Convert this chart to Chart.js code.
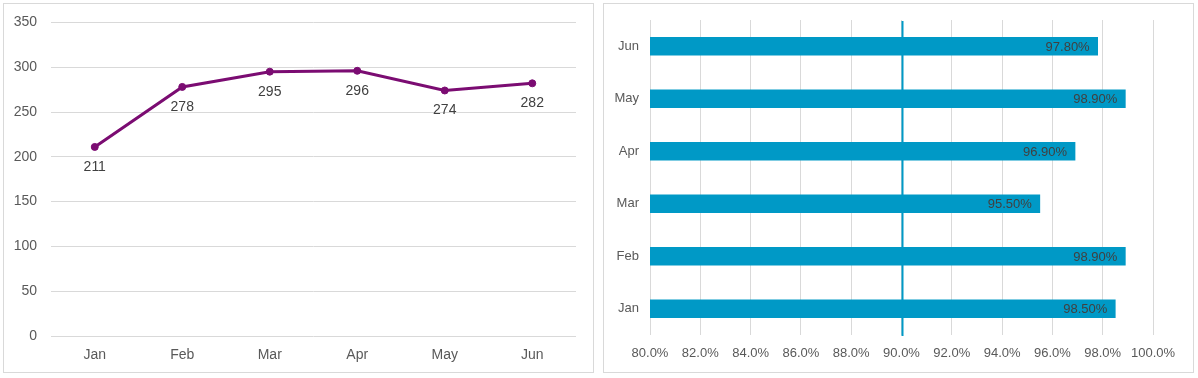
<!DOCTYPE html>
<html>
<head>
<meta charset="utf-8">
<script src="https://cdn.jsdelivr.net/npm/chart.js@4.4.0/dist/chart.umd.min.js"></script>
<style>
  html, body { margin: 0; padding: 0; background: #ffffff; }
  body { width: 1198px; height: 378px; position: relative; overflow: hidden; }
  .panel { position: absolute; border: 1px solid #d9d9d9; box-sizing: border-box; }
  #p1 { left: 3px; top: 3px; width: 591px; height: 370px; }
  #p2 { left: 603px; top: 3px; width: 591px; height: 370px; }
  #c1wrap { position: absolute; left: 0; top: 0; width: 600px; height: 378px; }
  #c2wrap { position: absolute; left: 600px; top: 0; width: 598px; height: 378px; }
</style>
</head>
<body>
<div class="panel" id="p1"></div>
<div class="panel" id="p2"></div>
<div id="c1wrap"><canvas id="c1"></canvas></div>
<div id="c2wrap"><canvas id="c2"></canvas></div>
<script>
// ---- data ----
const months = ["Jan", "Feb", "Mar", "Apr", "May", "Jun"];
const countValues = [211, 278, 295, 296, 274, 282];
const rateValues = [98.5, 98.9, 95.5, 96.9, 98.9, 97.8];
const rateTarget = [90];
const countTicks = [0, 50, 100, 150, 200, 250, 300, 350];
const rateTicks = [80, 82, 84, 86, 88, 90, 92, 94, 96, 98, 100];

const FONT = "'Liberation Sans', Arial, sans-serif";
const AXIS_COLOR = "#595959";
const LABEL_COLOR = "#404040";
const GRID_COLOR = "#d9d9d9";
const LINE_COLOR = "#7b0c72";
const BAR_COLOR = "#0099c6";

// value labels below points
const lineLabels = {
  id: 'lineLabels',
  afterDatasetsDraw(chart) {
    const ctx = chart.ctx;
    const meta = chart.getDatasetMeta(0);
    ctx.save();
    ctx.font = "14px " + FONT;
    ctx.fillStyle = LABEL_COLOR;
    ctx.textAlign = 'center';
    ctx.textBaseline = 'middle';
    meta.data.forEach((pt, i) => {
      ctx.fillText(String(countValues[i]), pt.x, pt.y + 20);
    });
    ctx.restore();
  }
};

new Chart(document.getElementById('c1'), {
  type: 'line',
  data: {
    labels: months,
    datasets: [{
      data: countValues,
      borderColor: LINE_COLOR,
      backgroundColor: LINE_COLOR,
      borderWidth: 3,
      pointRadius: 3.5,
      pointHoverRadius: 3.5,
      pointBorderWidth: 1,
      pointBackgroundColor: LINE_COLOR,
      pointBorderColor: LINE_COLOR,
      tension: 0,
      fill: false
    }]
  },
  options: {
    responsive: true,
    maintainAspectRatio: false,
    animation: false,
    events: [],
    layout: { padding: { left: 0, top: 21, right: 24, bottom: 0 } },
    plugins: { legend: { display: false }, tooltip: { enabled: false } },
    scales: {
      x: {
        offset: true,
        grid: { display: false, drawTicks: false },
        border: { display: false },
        ticks: { color: AXIS_COLOR, font: { family: FONT, size: 14 }, padding: 11, maxRotation: 0 },
        afterFit(s) { s.height = 42; }
      },
      y: {
        min: countTicks[0],
        max: countTicks[countTicks.length - 1],
        afterBuildTicks(s) { s.ticks = countTicks.map(v => ({ value: v })); },
        grid: { color: GRID_COLOR, lineWidth: 1, drawTicks: false },
        border: { display: false },
        ticks: { color: AXIS_COLOR, font: { family: FONT, size: 14 }, padding: 14 },
        afterFit(s) { s.width = 51; }
      }
    }
  },
  plugins: [lineLabels]
});

// bar value labels + target line
const barExtras = {
  id: 'barExtras',
  afterDatasetsDraw(chart) {
    const ctx = chart.ctx;
    const meta = chart.getDatasetMeta(0);
    const xs = chart.scales.x;
    const area = chart.chartArea;
    ctx.save();
    ctx.font = "13px " + FONT;
    ctx.fillStyle = LABEL_COLOR;
    ctx.textAlign = 'right';
    ctx.textBaseline = 'middle';
    meta.data.forEach((bar, i) => {
      ctx.fillText(rateValues[i].toFixed(2) + '%', bar.x - 8, bar.y + 1);
    });
    const tx = Math.round(xs.getPixelForValue(rateTarget[0])) + 0.5;
    ctx.strokeStyle = BAR_COLOR;
    ctx.lineWidth = 2;
    ctx.beginPath();
    ctx.moveTo(tx, area.top + 1);
    ctx.lineTo(tx, area.bottom + 1);
    ctx.stroke();
    ctx.restore();
  }
};

new Chart(document.getElementById('c2'), {
  type: 'bar',
  data: {
    labels: months,
    datasets: [{
      data: rateValues,
      backgroundColor: BAR_COLOR,
      borderWidth: 0,
      barThickness: 18
    }]
  },
  options: {
    indexAxis: 'y',
    responsive: true,
    maintainAspectRatio: false,
    animation: false,
    events: [],
    layout: { padding: { left: 0, top: 20, right: 45, bottom: 0 } },
    plugins: { legend: { display: false }, tooltip: { enabled: false } },
    scales: {
      x: {
        min: rateTicks[0],
        max: rateTicks[rateTicks.length - 1],
        afterBuildTicks(s) { s.ticks = rateTicks.map(v => ({ value: v })); },
        grid: { color: GRID_COLOR, lineWidth: 1, drawTicks: false },
        border: { display: false },
        ticks: {
          color: AXIS_COLOR, font: { family: FONT, size: 13 }, padding: 11, maxRotation: 0,
          callback: v => Number(v).toFixed(1) + '%'
        },
        afterFit(s) { s.height = 43; }
      },
      y: {
        reverse: true,
        grid: { display: false, drawTicks: false },
        border: { display: false },
        ticks: { color: AXIS_COLOR, font: { family: FONT, size: 13 }, padding: 11 },
        afterFit(s) { s.width = 50; }
      }
    }
  },
  plugins: [barExtras]
});
</script>
</body>
</html>
